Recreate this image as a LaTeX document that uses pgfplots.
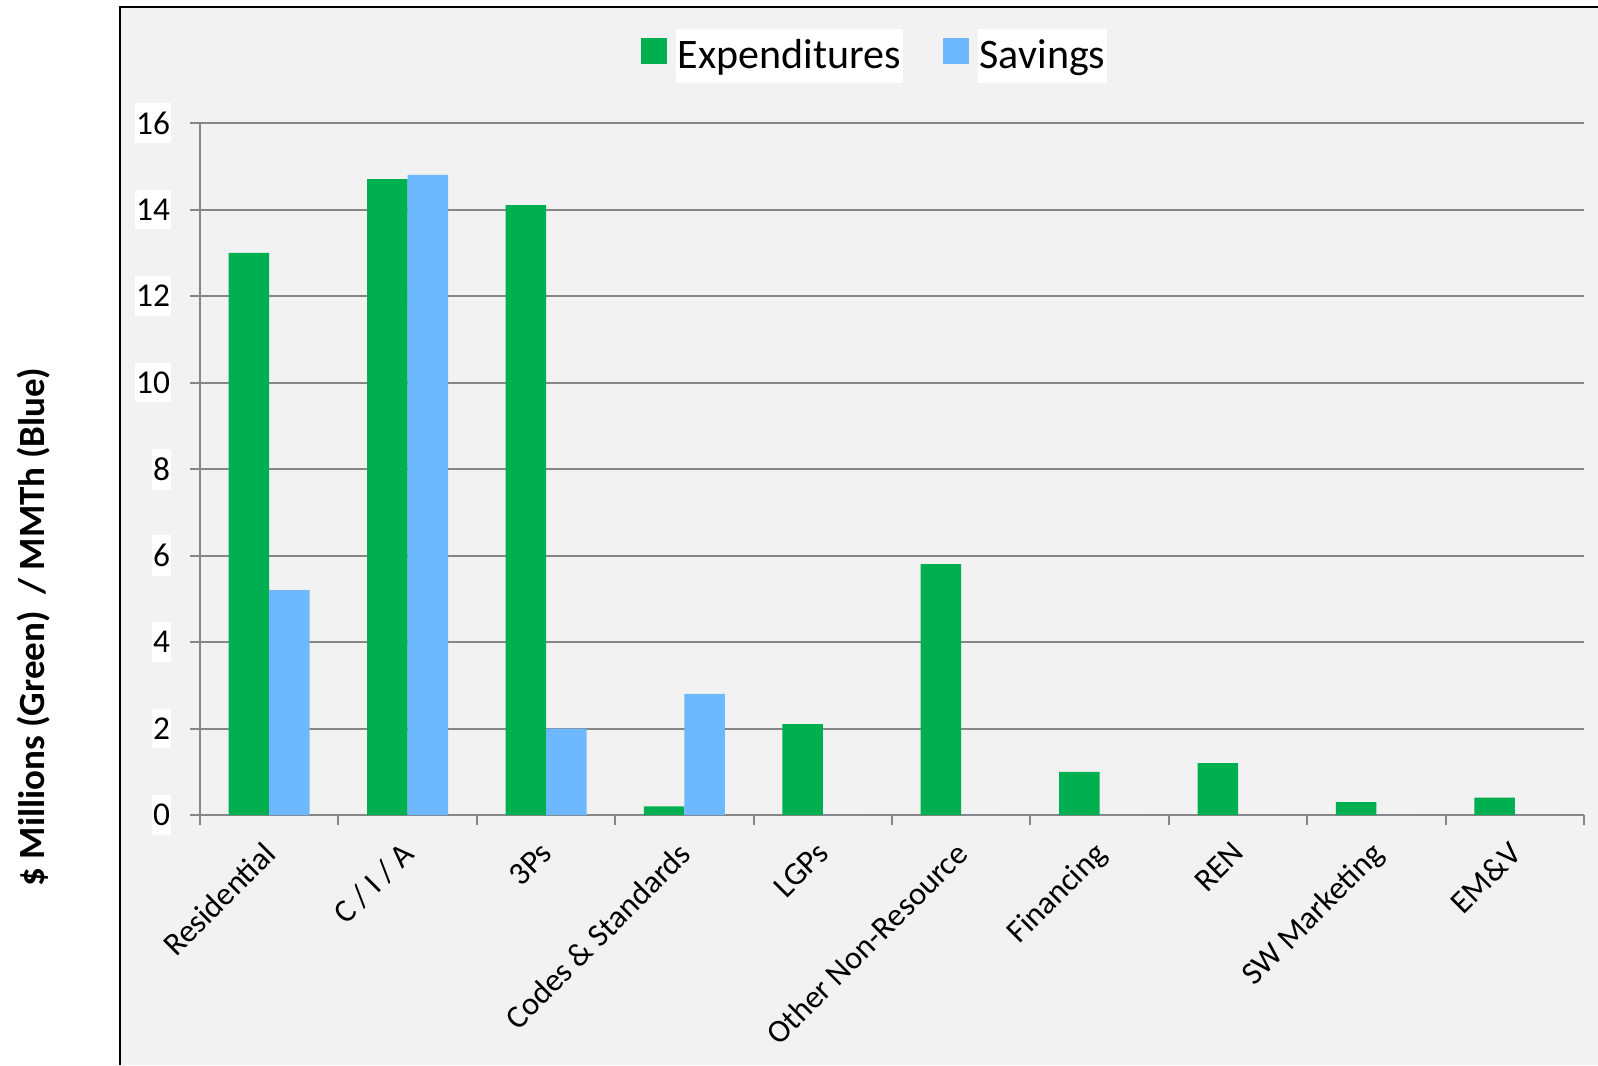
\documentclass[border=0pt]{standalone}
\usepackage{pgfplots}
\pgfplotsset{compat=1.18}
\usepackage{fontspec}
\setmainfont{Carlito}
\definecolor{expgreen}{HTML}{00B050}
\definecolor{savblue}{HTML}{6DB8FF}
\definecolor{panelgray}{HTML}{F2F2F2}
\definecolor{gridgray}{HTML}{868686}
\newcommand{\legbox}[1]{{\setlength{\fboxsep}{0pt}\colorbox{white}{\rule[-4.2pt]{0pt}{16.2pt}\hspace{0.6pt}#1\hspace{0.6pt}}}}
\begin{document}
\begin{tikzpicture}
\useasboundingbox (0,0) rectangle (479.4pt,319.5pt);
\fill[panelgray] (36pt,0) rectangle (479.4pt,317.4pt);
\draw[black, line width=0.6pt] (36pt,0) -- (36pt,317.4pt) -- (480pt,317.4pt);
\begin{axis}[
  at={(60pt,75pt)}, anchor=south west,
  scale only axis, width=415.2pt, height=207.6pt,
  ybar=0pt, bar width=12.15pt,
  xmin=-0.5, xmax=9.5, ymin=0, ymax=16,
  ytick={0,2,...,16},
  xtick={0,...,9},
  xticklabels={Residential, C / I / A, 3Ps, Codes \& Standards, LGPs, Other Non-Resource, Financing, REN, SW Marketing, EM\&V},
  minor xtick={-0.5,0.5,...,9.5},
  major x tick style={draw=none},
  minor x tick style={draw=gridgray, line width=0.6pt},
  y tick style={draw=gridgray, line width=0.6pt},
  tick align=outside, major tick length=3pt, minor tick length=3pt,
  axis x line*=bottom, axis y line*=left,
  axis line style={draw=gridgray, line width=0.6pt, -},
  ymajorgrids, grid style={draw=gridgray, line width=0.6pt},
  /pgf/number format/assume math mode=true,
  yticklabel style={font=\fontsize{10}{12}\selectfont, fill=white, inner xsep=0.3pt, inner ysep=2.7pt, xshift=-5.5pt},
  xticklabel style={font=\fontsize{9.7}{12}\selectfont, xshift=-2.2pt, yshift=-3.6pt, rotate=45, anchor=north east, inner sep=0.5pt},
  legend columns=2,
  legend style={draw=none, fill=none, at={(axis description cs:0.487,1.104)}, anchor=center,
    font=\fontsize{12.6}{15}\selectfont, nodes={inner sep=0pt},
    column sep=2.7pt, /tikz/every even column/.append style={column sep=12pt}},
  legend image code/.code={\fill[#1] (0pt,-3.9pt) rectangle (7.8pt,3.9pt);},
]
\addplot[fill=expgreen, draw=none] coordinates {(0,13.0) (1,14.7) (2,14.1) (3,0.2) (4,2.1) (5,5.8) (6,1.0) (7,1.2) (8,0.3) (9,0.4)};
\addplot[fill=savblue, draw=none] coordinates {(0,5.2) (1,14.8) (2,2.0) (3,2.8) (4,0) (5,0) (6,0) (7,0) (8,0) (9,0)};
\legend{\legbox{Expenditures}, \legbox{Savings}}
\end{axis}
\node[rotate=90, font=\bfseries\fontsize{11.1}{13}\selectfont] at (10.2pt,131.4pt) {\$ Millions (Green)\ \ / MMTh (Blue)};
\end{tikzpicture}
\end{document}
